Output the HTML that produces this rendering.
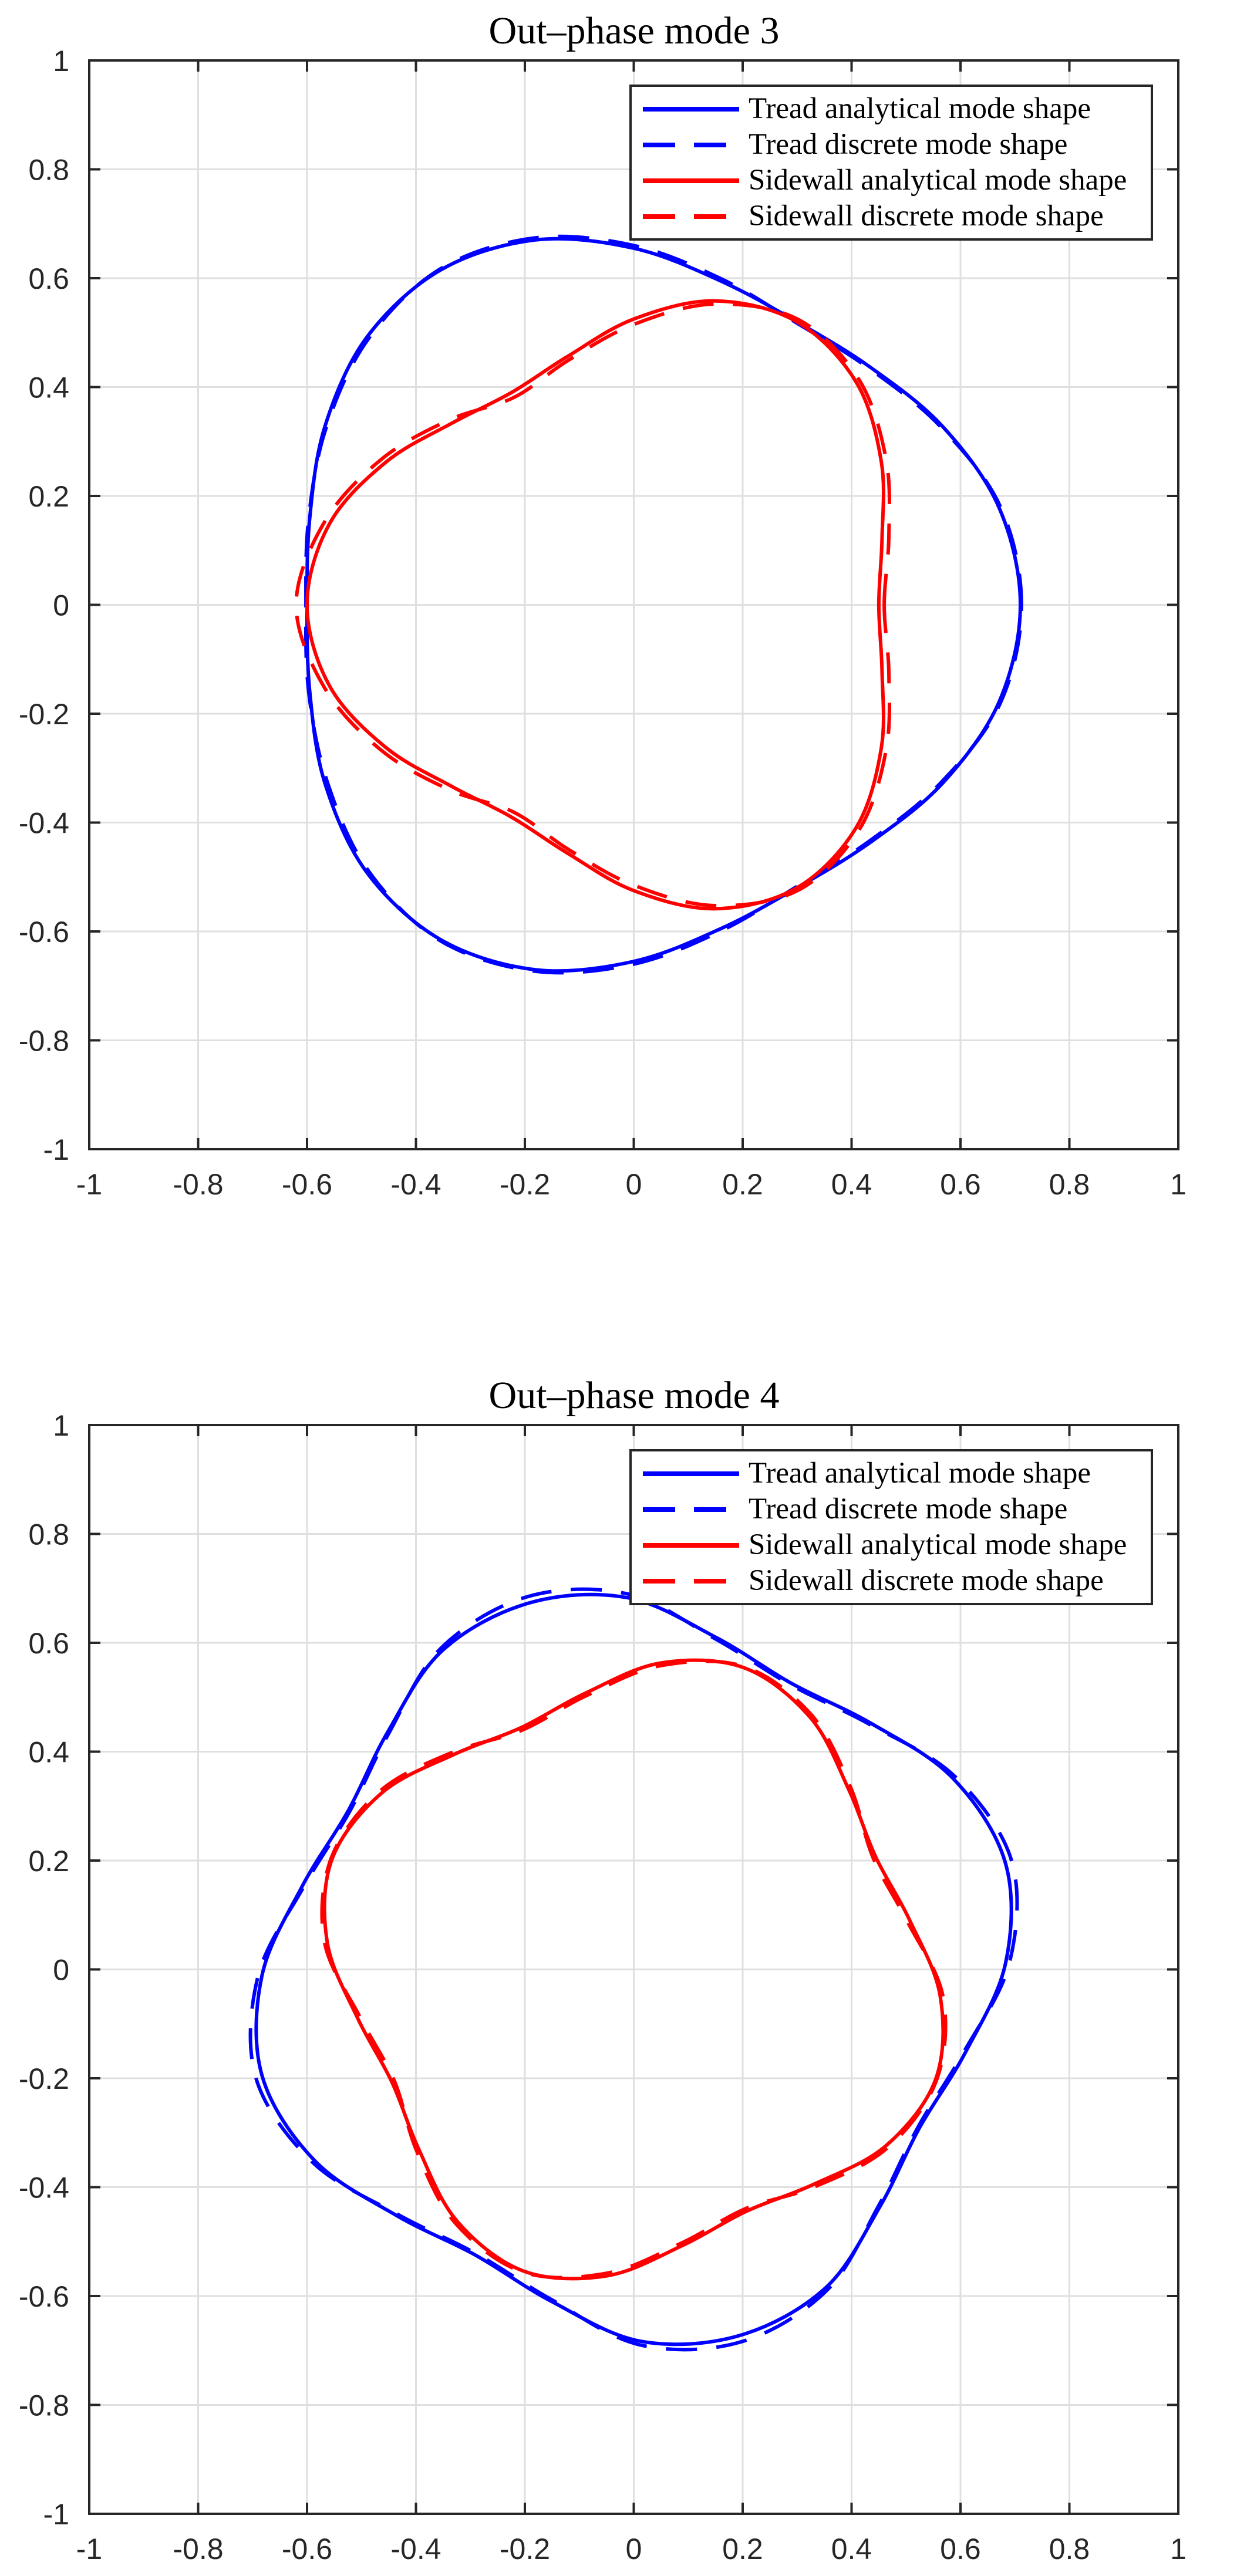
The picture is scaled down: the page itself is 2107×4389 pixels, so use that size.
<!DOCTYPE html>
<html><head><meta charset="utf-8">
<style>
html,body{margin:0;padding:0;background:#fff;}
svg{display:block;}
.tick{font-family:"Liberation Sans",sans-serif;font-size:50px;fill:#262626;}
.ttl{font-family:"Liberation Serif",serif;font-size:66px;fill:#000;}
.leg{font-family:"Liberation Serif",serif;font-size:51px;fill:#000;}
</style></head>
<body>
<svg id="chart" width="2107" height="4389" viewBox="0 0 2107 4389" xmlns="http://www.w3.org/2000/svg"></svg>
<script>
// angles in degrees, step 15
const angles = [0,15,30,45,60,75,90,105,120,135,150,165,180,195,210,225,240,255,270,285,300,315,330,345];
const anglesT4 = [16,31,46,61,76,91,106,121,136,151,166,181,196,211,226,241,256,271,286,301,316,331,346,361];
const anglesS4 = [-5,10,25,40,55,70,85,100,115,130,145,160,175,190,205,220,235,250,265,280,295,310,325,340];
const tickVals = [-1,-0.8,-0.6,-0.4,-0.2,0,0.2,0.4,0.6,0.8,1];
const tickLabels = ["-1","-0.8","-0.6","-0.4","-0.2","0","0.2","0.4","0.6","0.8","1"];
const titles = ["Out\u2013phase mode 3","Out\u2013phase mode 4"];
const legendLabels = ["Tread analytical mode shape","Tread discrete mode shape","Sidewall analytical mode shape","Sidewall discrete mode shape"];
// mode 3 radii
const m3TreadA = [0.71,0.694,0.655,0.616,0.60,0.616,0.655,0.694,0.71,0.694,0.655,0.616,0.60,0.616,0.655,0.694,0.71,0.694,0.655,0.616,0.60,0.616,0.655,0.694];
const m3TreadD = [0.712,0.697,0.652,0.613,0.598,0.620,0.660,0.698,0.712,0.690,0.652,0.618,0.602,0.618,0.650,0.690,0.712,0.697,0.660,0.620,0.598,0.613,0.652,0.697];
const m3SideA = [0.45,0.472,0.525,0.578,0.60,0.578,0.525,0.472,0.45,0.472,0.525,0.578,0.60,0.578,0.525,0.472,0.45,0.472,0.525,0.578,0.60,0.578,0.525,0.472];
const m3SideD = [0.46,0.485,0.535,0.585,0.605,0.572,0.515,0.465,0.44,0.48,0.535,0.588,0.62,0.588,0.535,0.48,0.44,0.465,0.515,0.572,0.605,0.585,0.535,0.485];
// mode 4 radii
const m4TreadA = [0.71,0.683,0.628,0.60,0.628,0.683,0.70,0.683,0.628,0.60,0.628,0.683,0.71,0.683,0.628,0.60,0.628,0.683,0.70,0.683,0.628,0.60,0.628,0.683];
const m4TreadD = [0.722,0.688,0.625,0.597,0.625,0.690,0.712,0.688,0.625,0.597,0.625,0.690,0.722,0.688,0.625,0.597,0.625,0.690,0.712,0.688,0.625,0.597,0.625,0.690];
const m4SideA = [0.565,0.515,0.49,0.515,0.565,0.59,0.565,0.515,0.49,0.515,0.565,0.59,0.565,0.515,0.49,0.515,0.565,0.59,0.565,0.515,0.49,0.515,0.565,0.59];
const m4SideD = [0.57,0.51,0.485,0.52,0.57,0.592,0.56,0.51,0.485,0.52,0.57,0.592,0.57,0.51,0.485,0.52,0.57,0.592,0.56,0.51,0.485,0.52,0.57,0.592];

const NS="http://www.w3.org/2000/svg";
const svg=document.getElementById('chart');
function mk(tag,attrs,parent){const e=document.createElementNS(NS,tag);for(const k in attrs)e.setAttribute(k,attrs[k]);(parent||svg).appendChild(e);return e;}

const L=152,R=2007,T0=103,SIZE=1855,OFF=2325;
function drawPanel(p,title,series){
  const T=T0+p*OFF,B=T+SIZE;
  const sx=v=>L+(v+1)/2*SIZE, sy=v=>B-(v+1)/2*SIZE;
  const g=mk('g',{});
  
  
  const grid=mk('g',{},g);
  
  
  tickVals.forEach((v,i)=>{
    if(i>0&&i<tickVals.length-1){
      mk('line',{x1:sx(v),x2:sx(v),y1:T,y2:B,stroke:'#dfdfdf','stroke-width':3},grid);
      mk('line',{x1:L,x2:R,y1:sy(v),y2:sy(v),stroke:'#dfdfdf','stroke-width':3},grid);
    }
  });
  const clip='clip'+p;
  const cp=mk('clipPath',{id:clip},g);mk('rect',{x:L,y:T,width:SIZE,height:SIZE},cp);
  series.forEach(s=>{
    const pts=s.a.map((a,i)=>{const t=a*Math.PI/180;return [sx(s.r[i]*Math.cos(t)),sy(s.r[i]*Math.sin(t))];});
    const n=pts.length;let d='M'+pts[0][0].toFixed(1)+','+pts[0][1].toFixed(1);
    for(let i=0;i<n;i++){
      const p0=pts[(i-1+n)%n],p1=pts[i],p2=pts[(i+1)%n],p3=pts[(i+2)%n];
      const c1=[p1[0]+(p2[0]-p0[0])/6,p1[1]+(p2[1]-p0[1])/6];
      const c2=[p2[0]-(p3[0]-p1[0])/6,p2[1]-(p3[1]-p1[1])/6];
      d+=' C'+c1[0].toFixed(1)+','+c1[1].toFixed(1)+' '+c2[0].toFixed(1)+','+c2[1].toFixed(1)+' '+p2[0].toFixed(1)+','+p2[1].toFixed(1);
    }
    const path=mk('path',{d:d+'Z',fill:'none',stroke:s.c,'stroke-width':6,'clip-path':'url(#'+clip+')'},g);
    if(s.dash)path.setAttribute('stroke-dasharray','53 33');
    
    
  });
  const box=mk('rect',{x:L,y:T,width:SIZE,height:SIZE,fill:'none',stroke:'#262626','stroke-width':4},g);
  
  
  tickVals.forEach((v,i)=>{
    mk('line',{x1:sx(v),x2:sx(v),y1:T,y2:T+19,stroke:'#262626','stroke-width':4},g);
    mk('line',{x1:sx(v),x2:sx(v),y1:B,y2:B-19,stroke:'#262626','stroke-width':4},g);
    mk('line',{x1:L,x2:L+19,y1:sy(v),y2:sy(v),stroke:'#262626','stroke-width':4},g);
    mk('line',{x1:R,x2:R-19,y1:sy(v),y2:sy(v),stroke:'#262626','stroke-width':4},g);
    const xt=mk('text',{x:sx(v),y:B+77,'text-anchor':'middle',class:'tick'},g);xt.textContent=tickLabels[i];
    
    
    const yt=mk('text',{x:118,y:sy(v)+18,'text-anchor':'end',class:'tick'},g);yt.textContent=tickLabels[i];
    
    
  });
  const tt=mk('text',{x:1080,y:T-29,'text-anchor':'middle',class:'ttl'},g);tt.textContent=title;
  
  
  const lg=mk('g',{},g);
  
  
  const LT=T+43;
  mk('rect',{x:1074,y:LT,width:888,height:262,fill:'#fff',stroke:'#262626','stroke-width':4},lg);
  series.forEach((s,i)=>{
    const y=LT+40+i*61;
    const ln=mk('line',{x1:1095,x2:1259,y1:y,y2:y,stroke:s.c,'stroke-width':8},lg);
    if(s.dash)ln.setAttribute('stroke-dasharray','55 32');
    const tx=mk('text',{x:1275,y:y+15,class:'leg'},lg);tx.textContent=legendLabels[i];
    
    
  });
}
drawPanel(0,titles[0],[
 {a:angles,r:m3TreadA,c:'#0000ff',dash:false,name:'tread-analytical-line'},
 {a:angles,r:m3TreadD,c:'#0000ff',dash:true,name:'tread-discrete-line'},
 {a:angles,r:m3SideA,c:'#ff0000',dash:false,name:'sidewall-analytical-line'},
 {a:angles,r:m3SideD,c:'#ff0000',dash:true,name:'sidewall-discrete-line'}]);
drawPanel(1,titles[1],[
 {a:anglesT4,r:m4TreadA,c:'#0000ff',dash:false,name:'tread-analytical-line'},
 {a:anglesT4,r:m4TreadD,c:'#0000ff',dash:true,name:'tread-discrete-line'},
 {a:anglesS4,r:m4SideA,c:'#ff0000',dash:false,name:'sidewall-analytical-line'},
 {a:anglesS4,r:m4SideD,c:'#ff0000',dash:true,name:'sidewall-discrete-line'}]);
</script>
</body></html>
